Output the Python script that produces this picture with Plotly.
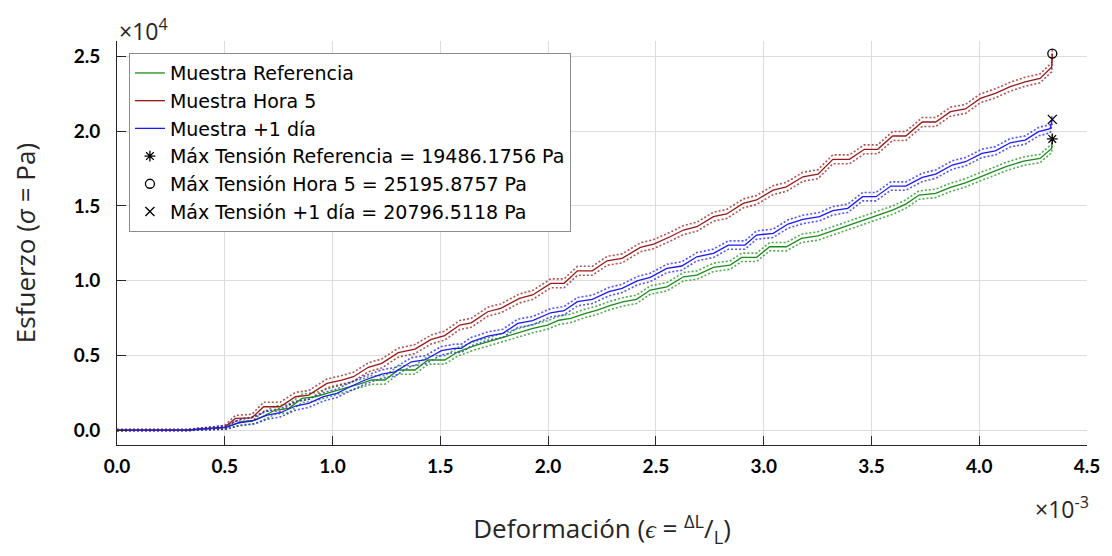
import plotly.graph_objects as go

# Deformación en unidades de 1e-3 ; esfuerzo en Pa
def_ref = [0.0, 0.1, 0.2, 0.33, 0.4, 0.505, 0.581, 0.643, 0.735, 0.797, 0.858, 0.92, 0.997, 1.074, 1.135,
           1.181, 1.243, 1.305, 1.382, 1.443, 1.52, 1.582, 1.613, 1.66, 1.72, 1.797, 1.86, 1.93, 1.997, 2.05,
           2.105, 2.17, 2.228, 2.29, 2.351, 2.41, 2.474, 2.551, 2.628, 2.69, 2.767, 2.844, 2.898, 2.967, 3.028,
           3.105, 3.175, 3.252, 3.321, 3.39, 3.459, 3.536, 3.598, 3.659, 3.721, 3.798, 3.867, 3.936, 3.99,
           4.044, 4.121, 4.206, 4.282, 4.336, 4.339]
esf_ref = [0, 0, 0, 0, 60, 180, 560, 670, 1340, 1450, 2120, 2230, 2560, 2860, 3120,
           3350, 3350, 4020, 4020, 4690, 4690, 5240, 5400, 5650, 5900, 6250, 6500, 6800, 7030, 7350,
           7480, 7800, 8030, 8350, 8590, 8750, 9370, 9590, 10260, 10370, 10890, 11040, 11560, 11560, 12270,
           12270, 12830, 12990, 13340, 13680, 14010, 14390, 14720, 15120, 15730, 15840, 16240, 16550, 16850,
           17180, 17620, 18000, 18180, 18850, 19486.1756]
desv_ref = [40, 40, 40, 40, 60, 120, 200, 240] + [280] * 57

def_h5 = [0.0, 0.1, 0.2, 0.33, 0.38, 0.45, 0.5, 0.55, 0.626, 0.68, 0.757, 0.828, 0.889, 0.974, 1.043,
          1.097, 1.166, 1.228, 1.305, 1.382, 1.458, 1.52, 1.59, 1.643, 1.72, 1.78, 1.867, 1.928, 2.012,
          2.074, 2.136, 2.205, 2.274, 2.343, 2.428, 2.49, 2.566, 2.628, 2.69, 2.767, 2.828, 2.905, 2.967,
          3.044, 3.105, 3.182, 3.252, 3.321, 3.398, 3.467, 3.529, 3.598, 3.659, 3.736, 3.798, 3.867, 3.936,
          4.005, 4.075, 4.144, 4.213, 4.282, 4.336, 4.339]
esf_h5 = [0, 0, 0, 0, 80, 120, 200, 780, 820, 1560, 1560, 2230, 2340, 3120, 3350,
          3570, 4200, 4460, 5180, 5420, 6070, 6320, 7030, 7180, 7920, 8140, 8810, 9040, 9820,
          9820, 10660, 10660, 11330, 11490, 12230, 12450, 12940, 13390, 13610, 14280, 14460, 15170, 15400,
          16060, 16280, 16950, 17130, 18120, 18120, 18790, 18790, 19680, 19680, 20620, 20620, 21310, 21490,
          22200, 22540, 22980, 23310, 23540, 24280, 25195.8757]
desv_h5 = [40, 40, 40, 40, 60, 80, 120, 200, 240] + [300] * 55

def_d1 = [0.0, 0.1, 0.2, 0.33, 0.4, 0.505, 0.566, 0.628, 0.697, 0.758, 0.828, 0.889, 0.958, 1.02, 1.089,
          1.151, 1.228, 1.289, 1.366, 1.428, 1.505, 1.566, 1.597, 1.643, 1.72, 1.79, 1.859, 1.928, 2.012,
          2.074, 2.136, 2.205, 2.282, 2.343, 2.413, 2.474, 2.551, 2.62, 2.69, 2.767, 2.836, 2.913, 2.967,
          3.044, 3.113, 3.182, 3.259, 3.321, 3.39, 3.459, 3.521, 3.59, 3.659, 3.736, 3.798, 3.875, 3.936,
          4.013, 4.075, 4.144, 4.213, 4.275, 4.329, 4.339]
esf_d1 = [0, 0, 0, 0, 80, 180, 490, 620, 1000, 1160, 1610, 1790, 2230, 2460, 2950,
          3350, 3750, 3900, 4570, 4690, 5310, 5470, 5470, 5910, 6290, 6470, 7140, 7320, 7850,
          7990, 8590, 8750, 9260, 9480, 9990, 10220, 10820, 10980, 11600, 11830, 12380, 12380, 13050,
          13170, 13790, 14100, 14280, 14680, 14840, 15620, 15620, 16330, 16330, 16910, 17130, 17740, 17960,
          18520, 18690, 19230, 19410, 19970, 20170, 20796.5118]
desv_d1 = [40, 40, 40, 40, 60, 120, 200, 240] + [280] * 56

max_labels = ["Máx Tensión Referencia = 19486.1756 Pa",
              "Máx Tensión Hora 5 = 25195.8757 Pa",
              "Máx Tensión +1 día = 20796.5118 Pa"]

x_ticks = [0.0, 0.5, 1.0, 1.5, 2.0, 2.5, 3.0, 3.5, 4.0, 4.5]
y_ticks = [0, 5000, 10000, 15000, 20000, 25000]
y_ticktext = ["0.0", "0.5", "1.0", "1.5", "2.0", "2.5"]

series = [
    ("Muestra Referencia", def_ref, esf_ref, desv_ref, "rgb(25,140,25)", "rgba(25,140,25,0.75)"),
    ("Muestra Hora 5", def_h5, esf_h5, desv_h5, "rgb(150,25,25)", "rgba(150,25,25,0.75)"),
    ("Muestra +1 día", def_d1, esf_d1, desv_d1, "rgb(25,25,245)", "rgba(25,25,245,0.75)"),
]

fig = go.Figure()
SC = 1e-3
for name, xs, ys, d, col, bcol in series:
    xv = [v * SC for v in xs]
    for sign in (1, -1):
        fig.add_trace(go.Scatter(x=xv, y=[v + sign * e for v, e in zip(ys, d)], mode="lines",
                                 line=dict(color=bcol, width=1.6, dash="2px,2px"),
                                 showlegend=False, hoverinfo="skip"))
for name, xs, ys, d, col, bcol in series:
    fig.add_trace(go.Scatter(x=[v * SC for v in xs], y=ys, mode="lines", name=name,
                             line=dict(color=col, width=1.3)))

symbols = ["asterisk-open", "circle-open", "x-thin-open"]
for (name, xs, ys, d, col, bcol), lab, sym in zip(series, max_labels, symbols):
    fig.add_trace(go.Scatter(x=[xs[-1] * SC], y=[ys[-1]], mode="markers", name=lab,
                             marker=dict(symbol=sym, size=9, color="black",
                                         line=dict(color="black", width=1.3))))

axis_font = dict(family="Lato", size=19, color="black", weight="bold")
title_font = dict(family="Open Sans", size=26, color="#262626")
fig.update_layout(
    width=1112, height=556,
    margin=dict(l=117, r=20, t=41, b=111),
    plot_bgcolor="white", paper_bgcolor="white",
    font=dict(family="Open Sans", color="#262626"),
    showlegend=True,
    legend=dict(x=0.0123, y=0.97, xanchor="left", yanchor="top",
                bgcolor="white", bordercolor="#8c8c8c", borderwidth=1,
                font=dict(family="DejaVu Sans", size=19, color="black"),
                tracegroupgap=0, itemwidth=30),
    xaxis=dict(range=[0, 4.5e-3], tickvals=[v * SC for v in x_ticks],
               ticktext=[f"{v:.1f}" for v in x_ticks], tickfont=axis_font,
               ticks="inside", ticklen=9, tickcolor="#262626", ticklabelstandoff=4,
               showline=True, linecolor="#262626", linewidth=1, mirror=False,
               showgrid=True, gridcolor="#dcdcdc", gridwidth=1, zeroline=False,
               title=dict(text="Deformación (<i>ϵ</i> = <sup>ΔL</sup>/<sub>L</sub>)",
                          font=title_font, standoff=44)),
    yaxis=dict(range=[-1000, 26040], tickvals=y_ticks, ticktext=y_ticktext, tickfont=axis_font,
               ticks="inside", ticklen=9, tickcolor="#262626", ticklabelstandoff=12,
               showline=True, linecolor="#262626", linewidth=1, mirror=False,
               showgrid=True, gridcolor="#dcdcdc", gridwidth=1, zeroline=False,
               title=dict(text="Esfuerzo (<i>σ</i> = Pa)", font=title_font, standoff=30)),
    annotations=[
        dict(xref="paper", yref="paper", x=0, y=1, xanchor="left", yanchor="bottom",
             text="×10<sup>4</sup>", showarrow=False, xshift=0, yshift=-8,
             font=dict(family="Open Sans", size=23, color="#262626")),
        dict(xref="paper", yref="paper", x=1, y=0, xanchor="right", yanchor="top",
             text="×10<sup>-3</sup>", showarrow=False, xshift=4, yshift=-44,
             font=dict(family="Open Sans", size=23, color="#262626")),
    ],
)

fig.write_html("out.html")
